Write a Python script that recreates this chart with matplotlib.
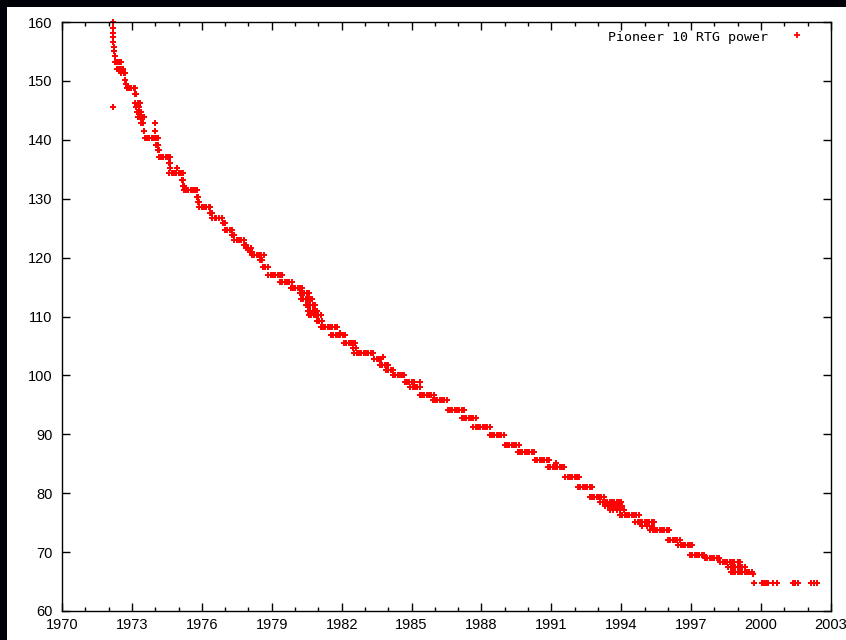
"""Pioneer 10 RTG power vs. time, gnuplot style scatter on a dark slide frame."""

import matplotlib
matplotlib.use("Agg")
import matplotlib.pyplot as plt
from matplotlib.patches import Rectangle
from matplotlib.ticker import MultipleLocator

# Readings grouped by (roughly constant) power level, watts -> list of years
STEP_LEVELS = [
    160.0, 159.0, 158.2, 157.4, 156.6, 155.8, 155.0, 154.2,
    153.2, 152.0, 151.3, 150.2, 149.5, 148.8, 147.8, 146.2, 145.5, 144.8,
    143.9, 142.8, 141.5, 140.3, 139.2, 138.2, 137.1, 136.0, 135.2, 134.4,
    133.2, 132.2, 131.5, 130.3, 129.5, 128.6, 127.6, 126.7, 125.8, 124.7,
    123.8, 123.0, 122.2, 121.6, 120.9, 120.4, 119.6, 118.4, 117.0, 115.9,
    114.8, 114.0, 113.0, 112.0, 111.0, 110.3, 109.2, 108.2, 107.2, 106.9,
    105.5, 104.6, 103.8, 103.1, 102.8, 101.8, 101.0, 100.1, 98.9, 98.0,
    96.7, 95.8, 94.1, 92.8, 91.2, 89.9, 88.2, 87.0, 85.6, 85.1, 84.4,
    82.8, 81.1, 79.4, 78.5, 77.8, 77.1, 76.3, 75.1, 74.5, 73.8, 72.1,
    71.2, 69.5, 69.0, 68.3, 67.5, 66.6, 66.3, 64.7,
]

STEP_YEARS = [
    [1972.17], [1972.18], [1972.19], [1972.20], [1972.21], [1972.22], [1972.24], [1972.26],
    [1972.28, 1972.30, 1972.38, 1972.46, 1972.53],
    [1972.35, 1972.45, 1972.55, 1972.62],
    [1972.55, 1972.65, 1972.72],
    [1972.72],
    [1972.76],
    [1972.78, 1972.88, 1972.98, 1973.08, 1973.14],
    [1973.12, 1973.16],
    [1973.15, 1973.25, 1973.33],
    [1972.20, 1973.18, 1973.30],
    [1973.20, 1973.32, 1973.40],
    [1973.24, 1973.34, 1973.44, 1973.54],
    [1973.40, 1973.48, 1973.99],
    [1973.50, 1973.99],
    [1973.55, 1973.65, 1973.75, 1973.85, 1973.95, 1974.05, 1974.12],
    [1974.05, 1974.12],
    [1974.10, 1974.15],
    [1974.15, 1974.25, 1974.35, 1974.45, 1974.55, 1974.62],
    [1974.58, 1974.64],
    [1974.62, 1974.95],
    [1974.60, 1974.70, 1974.80, 1974.90, 1975.00, 1975.10, 1975.18],
    [1975.15, 1975.20],
    [1975.20, 1975.25],
    [1975.22, 1975.32, 1975.42, 1975.52, 1975.62, 1975.72, 1975.80],
    [1975.78, 1975.85],
    [1975.85, 1975.90],
    [1975.90, 1976.00, 1976.10, 1976.20, 1976.30, 1976.36],
    [1976.35, 1976.42],
    [1976.45, 1976.55, 1976.62, 1976.75, 1976.87],
    [1976.90, 1977.00],
    [1977.00, 1977.10, 1977.20, 1977.30],
    [1977.30, 1977.40],
    [1977.40, 1977.50, 1977.60, 1977.70, 1977.82],
    [1977.80, 1977.90],
    [1977.90, 1978.00, 1978.10],
    [1978.05, 1978.15],
    [1978.15, 1978.25, 1978.35, 1978.45, 1978.55, 1978.65],
    [1978.50, 1978.60],
    [1978.62, 1978.72, 1978.82],
    [1978.85, 1978.95, 1979.05, 1979.15, 1979.25, 1979.35, 1979.45],
    [1979.35, 1979.45, 1979.55, 1979.65, 1979.75, 1979.85],
    [1979.82, 1979.92, 1980.02, 1980.12, 1980.22, 1980.30],
    [1980.20, 1980.30, 1980.40, 1980.50, 1980.60],
    [1980.25, 1980.35, 1980.45, 1980.55, 1980.65, 1980.72],
    [1980.45, 1980.55, 1980.65, 1980.75, 1980.85],
    [1980.55, 1980.65, 1980.75, 1980.85, 1980.95],
    [1980.60, 1980.70, 1980.80, 1980.90, 1981.00, 1981.10],
    [1980.95, 1981.05, 1981.15],
    [1981.10, 1981.20, 1981.30, 1981.40, 1981.50, 1981.60, 1981.70, 1981.80],
    [1981.95],
    [1981.55, 1981.65, 1981.75, 1981.85, 1981.95, 1982.05, 1982.15],
    [1982.10, 1982.20, 1982.30, 1982.40, 1982.50, 1982.58],
    [1982.50, 1982.60],
    [1982.55, 1982.65, 1982.75, 1982.85, 1982.95, 1983.05, 1983.15, 1983.25, 1983.35],
    [1983.78],
    [1983.40, 1983.50, 1983.60, 1983.70],
    [1983.65, 1983.75, 1983.85, 1983.95, 1984.00],
    [1983.90, 1984.00, 1984.10, 1984.20],
    [1984.20, 1984.30, 1984.40, 1984.50, 1984.60, 1984.68],
    [1984.70, 1984.80, 1984.90, 1985.00, 1985.10, 1985.35],
    [1984.95, 1985.05, 1985.15, 1985.25, 1985.35],
    [1985.35, 1985.45, 1985.55, 1985.65, 1985.75, 1985.85, 1985.95],
    [1985.90, 1986.00, 1986.10, 1986.20, 1986.30, 1986.40, 1986.50],
    [1986.55, 1986.65, 1986.75, 1986.85, 1986.95, 1987.05, 1987.15, 1987.25],
    [1987.15, 1987.25, 1987.35, 1987.45, 1987.55, 1987.65, 1987.75],
    [1987.65, 1987.75, 1987.85, 1987.95, 1988.05, 1988.15, 1988.25, 1988.35],
    [1988.35, 1988.45, 1988.55, 1988.65, 1988.75, 1988.85, 1988.95],
    [1989.00, 1989.10, 1989.20, 1989.30, 1989.40, 1989.50, 1989.60],
    [1989.55, 1989.65, 1989.75, 1989.85, 1989.95, 1990.05, 1990.15, 1990.25],
    [1990.30, 1990.40, 1990.50, 1990.60, 1990.70, 1990.80, 1990.90],
    [1991.20],
    [1990.85, 1990.95, 1991.05, 1991.15, 1991.25, 1991.35, 1991.45, 1991.55],
    [1991.60, 1991.70, 1991.80, 1991.90, 1992.00, 1992.10, 1992.20],
    [1992.15, 1992.25, 1992.35, 1992.45, 1992.55, 1992.65, 1992.75],
    [1992.65, 1992.75, 1992.85, 1992.95, 1993.05, 1993.15, 1993.25],
    [1993.10, 1993.20, 1993.30, 1993.40, 1993.50, 1993.60, 1993.70, 1993.80, 1993.90, 1994.00],
    [1993.30, 1993.45, 1993.60, 1993.75, 1993.90, 1994.05],
    [1993.50, 1993.65, 1993.80, 1993.95, 1994.10],
    [1993.95, 1994.05, 1994.15, 1994.25, 1994.35, 1994.45, 1994.55, 1994.65, 1994.75],
    [1994.60, 1994.70, 1994.80, 1994.90, 1995.00, 1995.10, 1995.20, 1995.30, 1995.40],
    [1994.90, 1995.10, 1995.30],
    [1995.25, 1995.35, 1995.45, 1995.55, 1995.65, 1995.75, 1995.85, 1995.95, 1996.05],
    [1996.00, 1996.10, 1996.20, 1996.30, 1996.40, 1996.50],
    [1996.45, 1996.55, 1996.65, 1996.75, 1996.85, 1996.95, 1997.05],
    [1996.95, 1997.05, 1997.15, 1997.25, 1997.35, 1997.45, 1997.55],
    [1997.60, 1997.70, 1997.80, 1997.90, 1998.00, 1998.10, 1998.20],
    [1998.25, 1998.35, 1998.45, 1998.55, 1998.65, 1998.75, 1998.85, 1999.00, 1999.10],
    [1998.60, 1998.70, 1998.80, 1998.90, 1999.00, 1999.10, 1999.20, 1999.30],
    [1998.70, 1998.80, 1998.90, 1999.00, 1999.10, 1999.20, 1999.30, 1999.40, 1999.50, 1999.60],
    [1999.65],
    [1999.70, 2000.04, 2000.12, 2000.20, 2000.30, 2000.52, 2000.69,
     2001.37, 2001.45, 2001.59, 2002.14, 2002.25, 2002.40],
]

X_TICKS = list(range(1970, 2004, 3))
Y_TICKS = list(range(60, 161, 10))
LEGEND_LABEL = "Pioneer 10 RTG power"

years, watts = [], []
for level, yrs in zip(STEP_LEVELS, STEP_YEARS):
    for yr in yrs:
        years.append(yr)
        watts.append(level)

fig = plt.figure(figsize=(8.46, 6.40), dpi=100, facecolor="#000008")
# white slide area inside the dark frame
fig.patches.append(Rectangle((7 / 846, 0), 1, (640 - 7) / 640, transform=fig.transFigure,
                             facecolor="white", edgecolor="none", zorder=-10))

ax = fig.add_axes([62 / 846, 29 / 640, 769 / 846, 589 / 640])
ax.set_facecolor("white")
ax.plot(years, watts, linestyle="none", marker="+", color="#ff0000",
        markersize=3.8, markeredgewidth=1.4, clip_on=False)

ax.set_xlim(1970, 2003)
ax.set_ylim(60, 160)
ax.set_xticks(X_TICKS)
ax.set_yticks(Y_TICKS)
ax.xaxis.set_minor_locator(MultipleLocator(1))
ax.tick_params(which="both", direction="in", top=True, right=True, colors="black")
ax.tick_params(which="major", length=6, width=1)
ax.tick_params(which="minor", length=3, width=1)
ax.tick_params(axis="x", pad=5)
ax.tick_params(axis="y", pad=7)
for lab in ax.get_xticklabels() + ax.get_yticklabels():
    lab.set_fontfamily("Liberation Sans")
    lab.set_fontsize(10.5)
for sp in ax.spines.values():
    sp.set_linewidth(1)

# gnuplot style key in the top right corner
ax.text(0.918, 0.9745, LEGEND_LABEL, transform=ax.transAxes, ha="right", va="center",
        fontfamily="DejaVu Sans Mono", fontsize=9.5)
ax.plot([0.956], [0.9775], transform=ax.transAxes, marker="+", color="#ff0000",
        markersize=3.8, markeredgewidth=1.3)

fig.savefig("out.png", dpi=100, facecolor=fig.get_facecolor())
